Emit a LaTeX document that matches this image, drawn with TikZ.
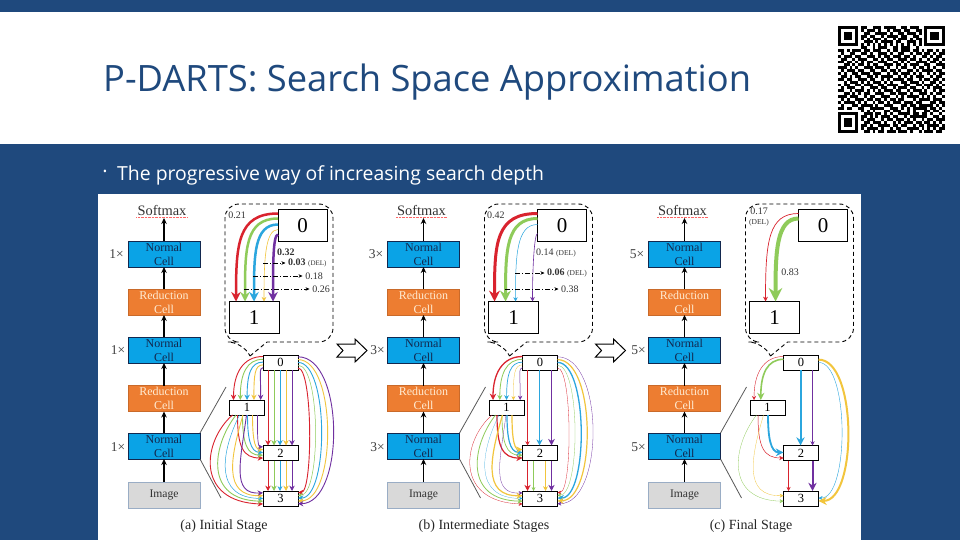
\documentclass[tikz,border=0pt]{standalone}
\usepackage{fontspec}
\setmainfont{Liberation Serif}
\newfontfamily\slidefont{Open Sans}
\usetikzlibrary{arrows.meta, calc}

\definecolor{slideblue}{HTML}{1F497D}
\definecolor{normalblue}{HTML}{0AA3E6}
\definecolor{normaltext}{HTML}{12284F}
\definecolor{reductionorange}{HTML}{ED7D31}
\definecolor{reductiontext}{HTML}{FFEBD2}
\definecolor{imagegrey}{HTML}{D9D9D9}
\definecolor{wire0}{HTML}{D9232E}
\definecolor{wire1}{HTML}{8FCB5A}
\definecolor{wire2}{HTML}{2BA6DE}
\definecolor{wire3}{HTML}{F2C53D}
\definecolor{wire4}{HTML}{7030A0}

% wires of the small cell graph, one macro per pair of nodes
\newcommand{\wiresZeroOne}[2]{\foreach \k/\w in {#2}{
  \draw[wire=\k, line width=\w pt] ($(#1-zero.north west)+(0,{1.5+2.8*\k})$)
    .. controls +({-3-0.6*(29-6.8*\k)},0) and +(0,-26) .. ($(#1-one.north west)+({4+6.8*\k},0)$);}}
\newcommand{\wiresStraight}[3]{\foreach \k/\w in {#3}{
  \draw[wire=\k, line width=\w pt] ($(#1.south west)+({5+6*\k},0)$) -- ($(#2.north west)+({5+6*\k},0)$);}}
\newcommand{\wiresZeroThree}[2]{\foreach \k/\w in {#2}{
  \draw[wire=\k, line width=\w pt] ($(#1-zero.south east)+(0,{-2-2.8*\k})$)
    .. controls +({15+8*\k},0) and +({15+8*\k},0) .. ($(#1-three.north east)+(0,{1.5+2.8*\k})$);}}
\newcommand{\wiresOneTwo}[2]{\foreach \k/\w in {#2}{
  \draw[wire=\k, line width=\w pt] ($(#1-one.south west)+({8+5*\k},0)$)
    .. controls +(0,{32-5*\k}) and +({-20+3.5*\k},0) .. ($(#1-two.south west)+(0,{-2.5-2.8*\k})$);}}
\newcommand{\wiresOneThree}[2]{\foreach \k/\w in {#2}{
  \draw[wire=\k, line width=\w pt] ($(#1-one.south west)+({3+3.5*\k},0)$)
    .. controls +({-30+6*\k},{26+5*\k}) and +({-68+9*\k},{-2+1*\k}) .. ($(#1-three.south west)+(0,{-2-2.8*\k})$);}}

% one row of the square code
\newcount\qrcol
\def\qrscan#1{\ifx#1\relax\else\if#11\fill (\the\qrcol,\r) rectangle +(1,1);\fi\advance\qrcol by 1 \expandafter\qrscan\fi}

\begin{document}
\begin{tikzpicture}[
    x=1pt, y=-1pt,
    block/.style={rectangle, draw=normaltext, line width=0.8pt, minimum width=72pt, minimum height=26pt, inner sep=0pt, outer sep=0pt, align=center, font=\fontsize{12}{14}\selectfont},
    normalcell/.style={block, fill=normalblue, text=normaltext},
    reductioncell/.style={block, draw=reductionorange!85!black, fill=reductionorange, text=reductiontext},
    imagecell/.style={block, draw=slideblue!45, fill=imagegrey, text=black!80, font=\fontsize{11.6}{14}\selectfont},
    bigbox/.style={rectangle, draw, fill=white, line width=0.9pt, minimum width=49pt, minimum height=32pt, inner sep=0pt, outer sep=0pt, font=\fontsize{21}{21}\selectfont},
    smallbox/.style={rectangle, draw, fill=white, line width=0.9pt, minimum width=35pt, minimum height=15pt, inner sep=0pt, outer sep=0pt, font=\fontsize{12.5}{13}\selectfont},
    arrow/.style={-{Stealth[length=6pt, width=5.5pt]}, line width=1.1pt},
    wire/.style={draw=wire#1, -{Stealth[length=3pt 2.6 0, width=3pt 2.6 0]}},
    probe/.style={-{Stealth[length=4pt, width=3.5pt]}, line width=0.6pt, shorten >=2.5pt, dash pattern=on 5pt off 2pt on 1pt off 2pt},
    times/.style={font=\fontsize{13.5}{13}\selectfont, text=black!75},
    value/.style={font=\fontsize{10}{11}\selectfont, text=black!80, inner sep=0pt, align=center},
    caption/.style={font=\fontsize{14}{14}\selectfont, text=black!85},
    blockarrow/.style={draw, fill=white, line width=1pt, line join=miter}
]
\useasboundingbox (0,0) rectangle (960,540);

% Slide
\fill[slideblue] (0,0) rectangle (960,540);
\fill[white] (0,12) rectangle (960,144);
\fill[white] (98,194) rectangle (861,540);
\node[anchor=base west, inner sep=0pt, text=slideblue, font=\slidefont\fontsize{36.3}{40}\selectfont] (title) at (103,92) {P-DARTS: Search Space Approximation};
\node[anchor=center, inner sep=0pt, text=white, font=\slidefont\fontsize{20}{24}\selectfont] (dot) at (105,174) {\textperiodcentered};
\node[anchor=base west, inner sep=0pt, text=white, font=\slidefont\fontsize{19.4}{24}\selectfont] (point) at (117,181) {The progressive way of increasing search depth};

% Square code
\begin{scope}[shift={(838,26)}, x=2.88pt, y=-2.88pt]
\foreach \row [count=\r from 0] in {
1111111011001110111100110111001111111,
1000001010111010010111011001101000001,
1011101001100111101001101110101011101,
1011101011011001011110110011001011101,
1011101010101110100101110101101011101,
1000001001110101111011001110101000001,
1111111010101010101010101010101111111,
0000000011001011100110111001000000000,
1101011101101110010110111011010110101,
0100110011010011101001100101101101011,
1011101100111010110111011010011010110,
0110010111001101011001110110100101101,
1101101010110011100110101001111011010,
0011010110101100111011010111001100111,
1110101001110111010010110010110101001,
0101110110011001101101001101011110110,
1010011011101110010110111010100101011,
0110101100110101111001010101110010110,
1101100111011001010111101100101101101,
0010111010101110101000110111010011010,
1011001101110011011110011001101110101,
0101110010011101100101110110010101110,
1100101110101010111011001011101001011,
0011010101100111001101110100111010110,
1110111001011001110010101111010101001,
0101001110110110101101100010111101110,
1011110101001011010111011101100011011,
0100011011110100111000110110111110101,
1101100110011111001110101011111011010,
0000000010101000110111001010001101101,
1111111001110110101001111011011010010,
1000001011010101110110010111111001101,
1011101010111001011011101010010110111,
1011101001101110100101011101101101010,
1011101011010011110110110010110111101,
1000001010111101001011001111010101011,
1111111001101011011101110100101110110}
{\qrcol=0 \expandafter\qrscan\row\relax}
\end{scope}

% Panels
\foreach \p/\dx/\nt in {a/0/1, b/259.5/3, c/520.5/5}{
\begin{scope}[xshift=\dx pt]
  % Cell stack
  \node[font=\fontsize{14.4}{15}\selectfont, text=black!80, inner sep=1pt] (\p-soft) at (162,211) {Softmax};
  \node[normalcell] (\p-top) at (164,254) {Normal\\Cell};
  \node[reductioncell] (\p-red) at (164,302) {Reduction\\Cell};
  \node[normalcell] (\p-mid) at (164,350) {Normal\\Cell};
  \node[reductioncell] (\p-redlow) at (164,398.5) {Reduction\\Cell};
  \node[normalcell] (\p-low) at (164,446) {Normal\\Cell};
  \node[imagecell] (\p-image) at (164,495) {Image};
  \node[times] (\p-ntop) at (116.5,254) {\nt×};
  \node[times] (\p-nmid) at (118,350) {\nt×};
  \node[times] (\p-nlow) at (118,447) {\nt×};

  \draw[red!60!white, densely dotted, line width=0.4pt] (\p-soft.south west) -- (\p-soft.south east);
  \draw[arrow] (\p-image) -- (\p-low);
  \draw[arrow] (\p-low) -- (\p-redlow);
  \draw[arrow] (\p-redlow) -- (\p-mid);
  \draw[arrow] (\p-mid) -- (\p-red);
  \draw[arrow] (\p-red) -- (\p-top);
  \draw[arrow] (\p-top) -- (164,218) coordinate (\p-softfoot);

  % Zoom lines
  \coordinate (\p-zoomup) at (226,387);
  \coordinate (\p-zoomdown) at (221,498);
  \draw[black!65, line width=0.8pt] (\p-low.north east) -- (\p-zoomup);
  \draw[black!65, line width=0.8pt] (\p-low.south east) -- (\p-zoomdown);

  % Small graph
  \node[smallbox] (\p-zero) at (280.5,362.5) {0};
  \node[smallbox] (\p-one) at (247,407.5) {1};
  \node[smallbox] (\p-two) at (280.5,453) {2};
  \node[smallbox] (\p-three) at (280.5,498.5) {3};

  % Callout
  \draw[line width=0.9pt, dashed, dash pattern=on 4pt off 3pt] (250,356) -- (267,342) [rounded corners=14pt] -- (333,342) -- (333,204) -- (225,204) -- (225,342) -- (242,342) [sharp corners] -- (250,356);
  \node[bigbox] (\p-bigzero) at (302.5,225.5) {0};
  \node[bigbox, minimum width=50pt] (\p-bigone) at (254,317.5) {1};
\end{scope}
}

% Wires, initial stage
\wiresZeroOne{a}{0/0.9,1/0.9,2/0.9,3/0.9,4/0.9}
\wiresStraight{a-zero}{a-two}{0/0.9,1/0.9,2/0.9,3/0.9,4/0.9}
\wiresStraight{a-two}{a-three}{0/0.9,1/0.9,2/0.7,3/0.9,4/0.9}
\wiresZeroThree{a}{0/0.9,1/0.5,2/0.9,3/0.9,4/0.9}
\wiresOneTwo{a}{0/0.9,1/0.9,2/0.9,3/0.9,4/0.7}
\wiresOneThree{a}{0/0.9,1/0.9,2/0.5,3/0.9,4/0.9}

% Wires, intermediate stages
\wiresZeroOne{b}{0/1.3,1/0.8,2/0.7,3/0.3,4/0.5}
\wiresStraight{b-zero}{b-two}{0/0.5,2/1.2,4/1.4}
\wiresStraight{b-two}{b-three}{0/1.2,1/0.3,3/0.7,4/1.2}
\wiresZeroThree{b}{0/0.3,1/0.3,2/1.3,3/1.2,4/0.3}
\wiresOneTwo{b}{0/1.2,1/0.7,2/1.2,3/1.2}
\wiresOneThree{b}{0/0.3,1/0.8,2/0.2,3/1.2,4/0.3}

% Wires, final stage
\wiresZeroOne{c}{0/0.4,1/1.6}
\wiresStraight{c-zero}{c-two}{2/2,4/0.5}
\wiresStraight{c-two}{c-three}{0/0.4,4/2}
\wiresZeroThree{c}{2/0.4,3/2}
\wiresOneTwo{c}{0/0.5,2/1.8}
\wiresOneThree{c}{1/0.3,3/0.3}

% Large wires, initial stage
\draw[wire=0, line width=2.5pt] ($(a-bigzero.north west)+(0,4)$) .. controls +(-40,0) and +(0,-58) .. ($(a-bigone.north west)+(7,0)$);
\draw[wire=1, line width=2.5pt] ($(a-bigzero.north west)+(0,9)$) .. controls +(-33,0) and +(0,-52) .. ($(a-bigone.north west)+(16,0)$);
\draw[wire=2, line width=2.5pt] ($(a-bigzero.north west)+(0,15)$) .. controls +(-24,0) and +(0,-46) .. ($(a-bigone.north west)+(25,0)$);
\draw[wire=3, line width=0.6pt] ($(a-bigzero.north west)+(0,20)$) .. controls +(-13,0) and +(0,-40) .. ($(a-bigone.north west)+(35,0)$);
\draw[wire=4, line width=2.5pt] ($(a-bigzero.north west)+(0,25)$) .. controls +(-5,0) and +(0,-36) .. ($(a-bigone.north west)+(44,0)$);
\node[value, anchor=center] (a-redval) at (237,215) {0.21};
\node[value, font=\bfseries\fontsize{10}{11}\selectfont, anchor=west] (a-purval) at (277,252) {0.32};
\node[value, anchor=west] (a-yelval) at (288,263) {\textbf{0.03} {\fontsize{7}{8}\selectfont(DEL)}};
\node[value] (a-bluval) at (314,276) {0.18};
\node[value] (a-greval) at (321,289) {0.26};
\coordinate (a-yelstart) at (263,263);
\coordinate (a-blustart) at (253,276);
\coordinate (a-grestart) at (244,289);
\draw[probe] (a-yelstart) -- (a-yelval);
\draw[probe] (a-blustart) -- (a-bluval);
\draw[probe] (a-grestart) -- (a-greval);

% Large wires, intermediate stages
\draw[wire=0, line width=3pt] ($(b-bigzero.north west)+(0,4)$) .. controls +(-42,0) and +(0,-58) .. ($(b-bigone.north west)+(6,0)$);
\draw[wire=1, line width=3pt] ($(b-bigzero.north west)+(0,9)$) .. controls +(-31,0) and +(0,-52) .. ($(b-bigone.north west)+(17,0)$);
\draw[wire=2, line width=0.5pt] ($(b-bigzero.north west)+(0,15)$) .. controls +(-21,0) and +(0,-46) .. ($(b-bigone.north west)+(27,0)$);
\draw[wire=4, line width=0.6pt] ($(b-bigzero.north west)+(0,24)$) .. controls +(-3,0) and +(0,-36) .. ($(b-bigone.north west)+(44,0)$);
\node[value, anchor=west] (b-redval) at (487,215) {0.42};
\node[value, anchor=west] (b-purval) at (536,253) {0.14 {\fontsize{7.5}{8}\selectfont(DEL)}};
\node[value, anchor=west] (b-bluval) at (547,273) {\textbf{0.06} {\fontsize{7.5}{8}\selectfont(DEL)}};
\node[value, anchor=west] (b-greval) at (561,289) {0.38};
\coordinate (b-blustart) at (515,273);
\coordinate (b-grestart) at (505,289);
\draw[probe] (b-blustart) -- (b-bluval);
\draw[probe] (b-grestart) -- (b-greval);

% Large wires, final stage
\draw[wire=0, line width=0.7pt] ($(c-bigzero.north west)+(0,4)$) .. controls +(-30,0) and +(0,-60) .. ($(c-bigone.north west)+(16,0)$);
\draw[wire=1, line width=4pt] ($(c-bigzero.north west)+(0,9)$) .. controls +(-22,0) and +(0,-50) .. ($(c-bigone.north west)+(26,0)$);
\node[value, anchor=center] (c-redval) at (759,217) {0.17\\[-1pt]{\fontsize{7.5}{8}\selectfont(DEL)}};
\node[value, anchor=center] (c-greval) at (790,272) {0.83};

% Block arrows
\foreach \dx in {0,258.5}{
  \draw[blockarrow, xshift=\dx pt] (337,344) -- (355,344) -- (355,339) -- (367,350.5) -- (355,362) -- (355,357) -- (337,357) -- (343,350.5) -- cycle;
}

% Captions
\node[caption] (cap-a) at (224,526) {(a) Initial Stage};
\node[caption] (cap-b) at (484,526) {(b) Intermediate Stages};
\node[caption] (cap-c) at (751,526) {(c) Final Stage};

\end{tikzpicture}
\end{document}
